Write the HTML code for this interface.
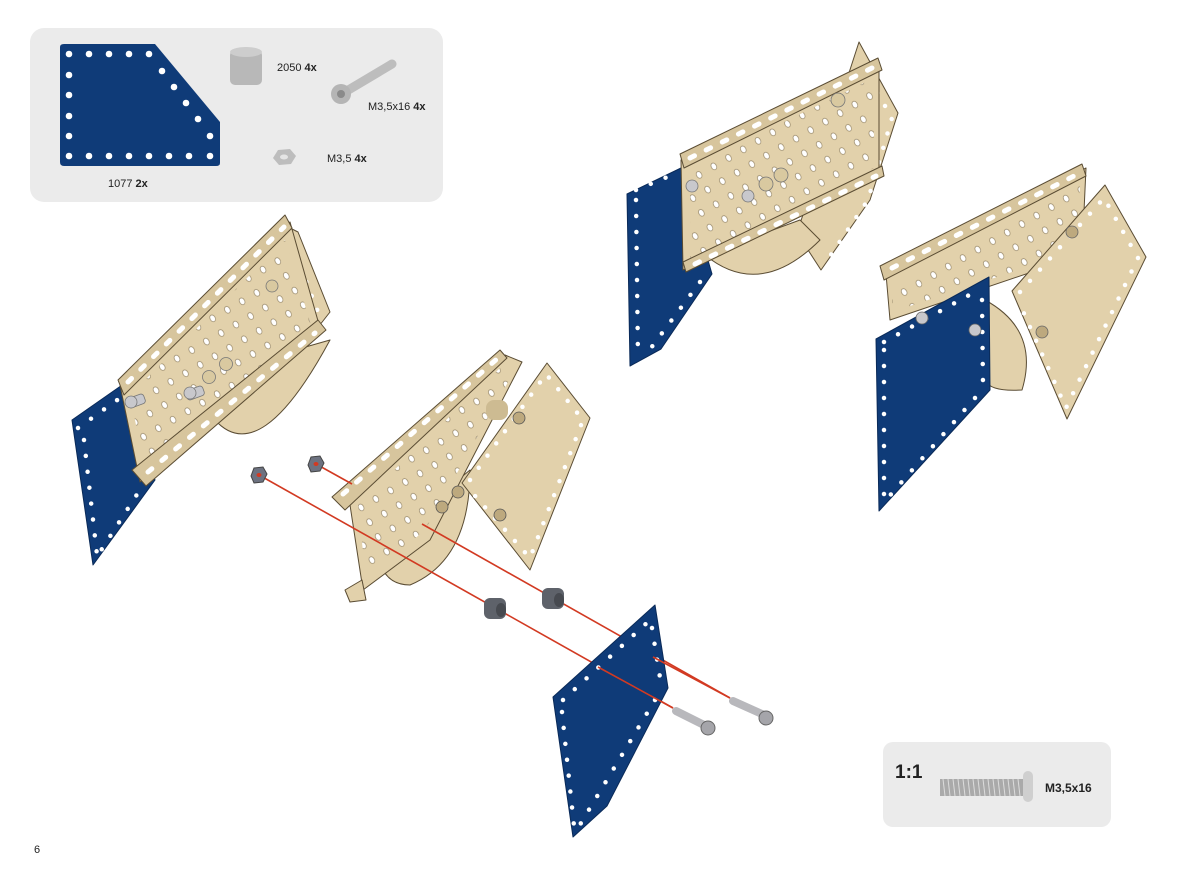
<!DOCTYPE html>
<html><head><meta charset="utf-8"><style>
html,body{margin:0;padding:0;background:#fff;}
svg{display:block;font-family:"Liberation Sans",sans-serif;}
.bl{fill:#0f3b78;stroke:#0a2a58;stroke-width:1;stroke-linejoin:round}
.bd{fill:none;stroke:#fff;stroke-width:4.5;stroke-linecap:round;stroke-dasharray:0 16}
.be{fill:#e2d1ab;stroke:#5a4c33;stroke-width:1;stroke-linejoin:round}
.bf{fill:#d7c59d;stroke:#5a4c33;stroke-width:1;stroke-linejoin:round}
.wd{fill:none;stroke:#fff;stroke-width:4.5;stroke-linecap:round;stroke-dasharray:0 15}
.sl{fill:none;stroke:#fff;stroke-width:5;stroke-linecap:round;stroke-dasharray:5 13}
.red{stroke:#d23a22;stroke-width:1.6;fill:none}
</style></head><body>
<svg width="1200" height="887" viewBox="0 0 1200 887" xmlns="http://www.w3.org/2000/svg">
<defs>
<pattern id="hw" width="17" height="17" patternUnits="userSpaceOnUse" patternTransform="rotate(-30)"><ellipse cx="8" cy="8" rx="2.6" ry="3.6" fill="#fff" stroke="#8a7a5a" stroke-width="0.6"/></pattern>
</defs>
<!-- parts box -->
<rect x="30" y="28" width="413" height="174" rx="14" fill="#ebebeb"/>
<path d="M60 47 Q60 44 64 44 L155 44 L220 122 L220 163 Q220 166 216 166 L64 166 Q60 166 60 162 Z" fill="#0f3b78"/>
<g fill="#fff">
<circle cx="69" cy="54" r="3.3"/><circle cx="89" cy="54" r="3.3"/><circle cx="109" cy="54" r="3.3"/><circle cx="129" cy="54" r="3.3"/><circle cx="149" cy="54" r="3.3"/>
<circle cx="162" cy="71" r="3.3"/><circle cx="174" cy="87" r="3.3"/><circle cx="186" cy="103" r="3.3"/><circle cx="198" cy="119" r="3.3"/><circle cx="210" cy="136" r="3.3"/>
<circle cx="69" cy="75" r="3.3"/><circle cx="69" cy="95" r="3.3"/><circle cx="69" cy="116" r="3.3"/><circle cx="69" cy="136" r="3.3"/>
<circle cx="69" cy="156" r="3.3"/><circle cx="89" cy="156" r="3.3"/><circle cx="109" cy="156" r="3.3"/><circle cx="129" cy="156" r="3.3"/><circle cx="149" cy="156" r="3.3"/><circle cx="169" cy="156" r="3.3"/><circle cx="189" cy="156" r="3.3"/><circle cx="210" cy="156" r="3.3"/>
</g>
<text x="108" y="187" font-size="11" fill="#222">1077 <tspan font-weight="bold">2x</tspan></text>
<rect x="230" y="50" width="32" height="35" rx="5" fill="#b8b8b8"/><ellipse cx="246" cy="52" rx="16" ry="5" fill="#cdcdcd"/>
<text x="277" y="71" font-size="11" fill="#222">2050 <tspan font-weight="bold">4x</tspan></text>
<line x1="345" y1="92" x2="392" y2="64" stroke="#bdbdbd" stroke-width="9" stroke-linecap="round"/>
<circle cx="341" cy="94" r="10" fill="#b5b5b5"/><circle cx="341" cy="94" r="4" fill="#8a8a8a"/>
<text x="368" y="110" font-size="11" fill="#222">M3,5x16 <tspan font-weight="bold">4x</tspan></text>
<polygon points="273,158 278,150 290,149 296,156 291,164 279,165" fill="#bdbdbd"/><ellipse cx="284" cy="157" rx="4" ry="2.5" fill="#e5e5e5"/>
<text x="327" y="162" font-size="11" fill="#222">M3,5 <tspan font-weight="bold">4x</tspan></text>

<!-- LEFT assembly -->
<polygon class="be" points="278,222 298,232 330,312 312,335 250,420 240,395"/>
<polyline class="wd" points="290,240 318,312 300,338"/>
<path class="be" d="M215 420 Q260 470 330 340 L260 360 Z"/>
<polygon class="bl" points="72,420 125,383 155,480 93,565"/>
<path class="bd" d="M78,428 120,398 M84,440 97,555 M145,482 100,552"/>
<polygon class="be" points="120,385 290,222 320,328 140,482"/>
<polygon points="130,395 285,240 312,328 145,470" fill="url(#hw)"/>
<polygon class="bf" points="118,380 285,215 292,228 124,395"/>
<line class="sl" x1="128" y1="382" x2="284" y2="227"/>
<polygon class="bf" points="132,470 318,320 326,330 146,486"/>
<line class="sl" x1="148" y1="472" x2="315" y2="333"/>
<g fill="#c8c8cc" stroke="#777" stroke-width="0.8">
<rect x="127" y="396" width="18" height="10" rx="3" transform="rotate(-20 136 401)"/><circle cx="131" cy="402" r="6"/>
<rect x="186" y="388" width="18" height="10" rx="3" transform="rotate(-20 195 393)"/><circle cx="190" cy="393" r="6"/>
<circle cx="209" cy="377" r="6.5" fill="#d9c9a0"/><circle cx="226" cy="364" r="6.5" fill="#d9c9a0"/>
<circle cx="272" cy="286" r="6" fill="#d9c9a0"/>
</g>

<!-- CENTER assembly -->
<path class="be" d="M377 547 L470 470 Q470 560 410 585 Q380 585 377 547 Z"/>
<polygon class="be" points="350,505 505,355 522,362 430,540 363,590"/>
<polygon points="358,505 500,368 512,375 425,530 366,580" fill="url(#hw)"/>
<polygon class="bf" points="332,497 500,350 507,358 345,510"/>
<line class="sl" x1="343" y1="494" x2="498" y2="358"/>
<polygon class="be" points="345,590 362,580 366,600 350,602"/>
<polygon class="be" points="462,483 547,363 590,418 530,570"/>
<polyline class="wd" points="470,480 546,374 583,420 530,558 468,488"/>
<rect x="486" y="400" width="22" height="20" rx="8" fill="#cdbb92"/>
<g fill="#bda97e" stroke="#555" stroke-width="0.8"><circle cx="519" cy="418" r="6"/><circle cx="500" cy="515" r="6"/><circle cx="442" cy="507" r="6"/><circle cx="458" cy="492" r="6"/></g>

<!-- red lines -->
<line class="red" x1="259" y1="475" x2="673" y2="708"/>
<line class="red" x1="316" y1="464" x2="352" y2="484"/>
<line class="red" x1="422" y1="524" x2="730" y2="698"/>

<!-- lower blue plate -->
<polygon class="bl" points="553,697 655,605 668,688 607,806 573,837"/>
<path class="bd" d="M563,700 650,620 M652,628 662,690 M655,700 578,828 M562,712 574,826"/>
<line class="red" x1="598" y1="667" x2="673" y2="708"/>
<line class="red" x1="653" y1="657" x2="730" y2="698"/>

<!-- nuts, spacers, bolts -->
<polygon points="251,476 254,468 263,467 267,474 263,482 254,483" fill="#6d7280" stroke="#444"/>
<polygon points="308,465 311,457 320,456 324,463 320,471 311,472" fill="#6d7280" stroke="#444"/>
<ellipse cx="259" cy="475" rx="2.5" ry="2" fill="#d23a22"/><ellipse cx="316" cy="464" rx="2.5" ry="2" fill="#d23a22"/>
<rect x="484" y="598" width="22" height="21" rx="6" fill="#5e626a"/><ellipse cx="501" cy="610" rx="5" ry="7" fill="#474a50"/>
<rect x="542" y="588" width="22" height="21" rx="6" fill="#5e626a"/><ellipse cx="559" cy="600" rx="5" ry="7" fill="#474a50"/>
<line x1="676" y1="711" x2="704" y2="725" stroke="#b8b8bc" stroke-width="8" stroke-linecap="round"/><circle cx="708" cy="728" r="7" fill="#a5a5aa" stroke="#666"/>
<line x1="733" y1="701" x2="762" y2="714" stroke="#b8b8bc" stroke-width="8" stroke-linecap="round"/><circle cx="766" cy="718" r="7" fill="#a5a5aa" stroke="#666"/>

<!-- TOP RIGHT 1 -->
<polygon class="be" points="797,233 859,42 898,113 870,200 821,270"/>
<polyline class="wd" points="870,80 892,118 868,200 826,262"/>
<path class="be" d="M705 255 Q760 300 820 240 L800 220 Z"/>
<polygon class="bl" points="627,194 681,168 712,274 661,349 630,366"/>
<path class="bd" d="M636,190 672,175 M636,200 638,358 M700,282 648,352"/>
<polygon class="be" points="681,160 879,66 879,172 683,270"/>
<polygon points="690,168 874,78 874,168 690,260" fill="url(#hw)"/>
<polygon class="bf" points="680,154 878,58 882,70 684,168"/>
<line class="sl" x1="690" y1="158" x2="874" y2="67"/>
<polygon class="bf" points="683,262 882,166 884,176 686,272"/>
<line class="sl" x1="695" y1="264" x2="876" y2="176"/>
<g fill="#c8c8cc" stroke="#777" stroke-width="0.8">
<circle cx="692" cy="186" r="6"/><circle cx="748" cy="196" r="6"/><circle cx="766" cy="184" r="7" fill="#d9c9a0"/><circle cx="781" cy="175" r="7" fill="#d9c9a0"/><circle cx="838" cy="100" r="7" fill="#d9c9a0"/>
</g>

<!-- TOP RIGHT 2 -->
<path class="be" d="M985 300 Q1040 330 1022 390 Q990 392 985 380 Z"/>
<polygon class="be" points="886,274 1086,168 1082,255 890,320"/>
<polygon points="892,285 1080,182 1078,250 892,312" fill="url(#hw)"/>
<polygon class="bf" points="880,266 1082,164 1086,176 884,280"/>
<line class="sl" x1="892" y1="268" x2="1078" y2="174"/>
<polygon class="be" points="1012,291 1105,185 1146,257 1067,419"/>
<polyline class="wd" points="1020,292 1104,198 1138,258 1066,408 1018,300"/>
<polygon class="bl" points="876,339 989,277 990,390 879,511"/>
<path class="bd" d="M884,342 982,288 M982,300 983,385 M975,398 886,500 M884,350 884,502"/>
<g fill="#c8c8cc" stroke="#666" stroke-width="0.8"><circle cx="922" cy="318" r="6"/><circle cx="975" cy="330" r="6"/><circle cx="1072" cy="232" r="6" fill="#bda97e"/><circle cx="1042" cy="332" r="6" fill="#bda97e"/></g>

<!-- 1:1 box -->
<rect x="883" y="742" width="228" height="85" rx="10" fill="#ebebeb"/>
<text x="895" y="778" font-size="19" font-weight="bold" fill="#222">1:1</text>
<rect x="940" y="779" width="83" height="17" fill="#aaa"/>
<g stroke="#ddd" stroke-width="1"><path d="M943 779 l2 17 M948 779 l2 17 M953 779 l2 17 M958 779 l2 17 M963 779 l2 17 M968 779 l2 17 M973 779 l2 17 M978 779 l2 17 M983 779 l2 17 M988 779 l2 17 M993 779 l2 17 M998 779 l2 17 M1003 779 l2 17 M1008 779 l2 17 M1013 779 l2 17 M1018 779 l2 17"/></g>
<rect x="1023" y="771" width="10" height="31" rx="5" fill="#cfcfcf"/>
<text x="1045" y="792" font-size="12" font-weight="bold" fill="#222">M3,5x16</text>
<text x="34" y="853" font-size="11" fill="#222">6</text>
</svg>
</body></html>
